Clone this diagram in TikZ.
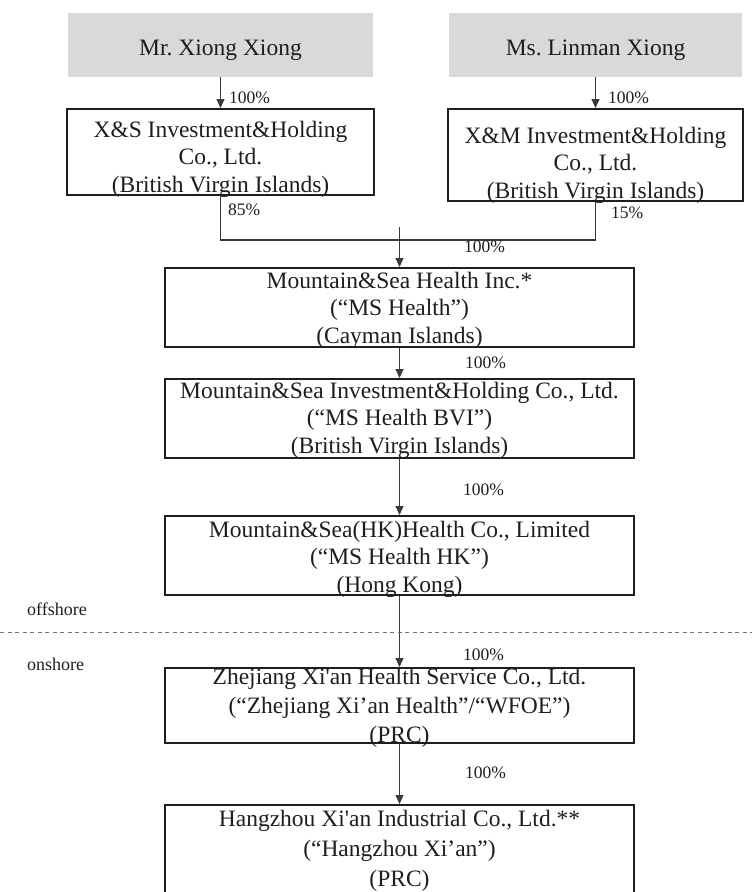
\documentclass[tikz,border=0pt]{standalone}
\usepackage{fontspec}
\setmainfont{Liberation Serif}[Ligatures=TeXOff]
\usetikzlibrary{arrows.meta}
\definecolor{boxgray}{HTML}{D9D9D9}
\definecolor{inkc}{HTML}{1E1E1E}
\definecolor{linec}{HTML}{3A3A3A}
\begin{document}
\begin{tikzpicture}[x=1pt,y=-1pt,
  person/.style={fill=boxgray,draw=none,inner sep=0,minimum width=#1,minimum height=64pt},
  entity/.style={draw=inkc,line width=2pt,inner sep=0,minimum width=469pt},
  etext/.style={inner sep=0,anchor=base,align=center,text=inkc,font=\fontsize{23.5}{#1}\selectfont},
  etext/.default=27.5,
  pct/.style={inner sep=0,anchor=base west,text=inkc,font=\fontsize{17.5}{20}\selectfont},
  zone/.style={inner sep=0,anchor=base west,text=inkc,font=\fontsize{18}{21}\selectfont},
  conn/.style={draw=linec,line width=1.1pt,-{Triangle[length=9pt,width=8pt]}},
  link/.style={draw=linec,line width=1.1pt},
  divider/.style={draw=black!55,line width=1pt,dash pattern=on 4pt off 3.5pt}]
\useasboundingbox (0,0) rectangle (752,892);
\clip (0,0) rectangle (752,892);
% shareholders
\node[person=305pt] (mr) at (220.5,44.5) {};
\node[person=293pt] (ms) at (595.5,44.5) {};
\node[etext] (mrt) at (220.5,55) {Mr.\ Xiong Xiong};
\node[etext] (mst) at (595.5,55) {Ms.\ Linman Xiong};
% BVI holding companies
\node[entity,minimum width=307pt,minimum height=86pt] (xs) at (220.5,152) {};
\node[entity,minimum width=295pt,minimum height=92pt] (xm) at (595.5,155) {};
\node[etext] (xst) at (220.5,192) {X\&S Investment\&Holding\\Co., Ltd.\\(British Virgin Islands)};
\node[etext] (xmt) at (595.5,198) {X\&M Investment\&Holding\\Co., Ltd.\\(British Virgin Islands)};
% chain
\node[entity,minimum height=79pt] (msh) at (399.5,307.5) {};
\node[etext] (msht) at (399.5,343) {Mountain\&Sea Health Inc.*\\(“MS Health”)\\(Cayman Islands)};
\node[entity,minimum height=79pt] (bvi) at (399.5,418.5) {};
\node[etext] (bvit) at (399.5,453) {Mountain\&Sea Investment\&Holding Co., Ltd.\\(“MS Health BVI”)\\(British Virgin Islands)};
\node[entity,minimum height=79pt] (hk) at (399.5,555.5) {};
\node[etext] (hkt) at (399.5,592) {Mountain\&Sea(HK)Health Co., Limited\\(“MS Health HK”)\\(Hong Kong)};
\node[entity,minimum height=75pt] (zj) at (399.5,705.5) {};
\node[etext=29] (zjt) at (399.5,742) {Zhejiang Xi'an Health Service Co., Ltd.\\(“Zhejiang Xi’an Health”/“WFOE”)\\(PRC)};
\node[entity,minimum height=95pt] (hz) at (399.5,852.5) {};
\node[etext=30] (hzt) at (399.5,886) {Hangzhou Xi'an Industrial Co., Ltd.**\\(“Hangzhou Xi’an”)\\(PRC)};
% connectors
\draw[conn] (mr.south) -- (xs.north);
\draw[conn] (ms.south) -- (xm.north);
\draw[link] (xs.south) -- ++(0,44) -| (xm.south);
\coordinate (mtop) at (399.5,227);
\draw[conn] (mtop) -- (msh.north);
\draw[conn] (msh.south) -- (bvi.north);
\draw[conn] (bvi.south) -- (hk.north);
\draw[conn] (hk.south) -- (zj.north);
\draw[conn] (zj.south) -- (hz.north);
% offshore / onshore divider
\coordinate (dl) at (0,632);
\coordinate (dr) at (752,632);
\draw[divider] (dl) -- (dr);
\node[zone] (off) at (27,615) {offshore};
\node[zone] (on) at (27,670) {onshore};
% percentages
\node[pct] (p1) at (229,103) {100\%};
\node[pct] (p2) at (608,103) {100\%};
\node[pct] (p85) at (228,215) {85\%};
\node[pct] (p15) at (611,218) {15\%};
\node[pct] (pm) at (464,252) {100\%};
\node[pct] (pb) at (465,368) {100\%};
\node[pct] (ph) at (463,495) {100\%};
\node[pct] (pz) at (463,660) {100\%};
\node[pct] (pz2) at (465,778) {100\%};
\end{tikzpicture}
\end{document}
